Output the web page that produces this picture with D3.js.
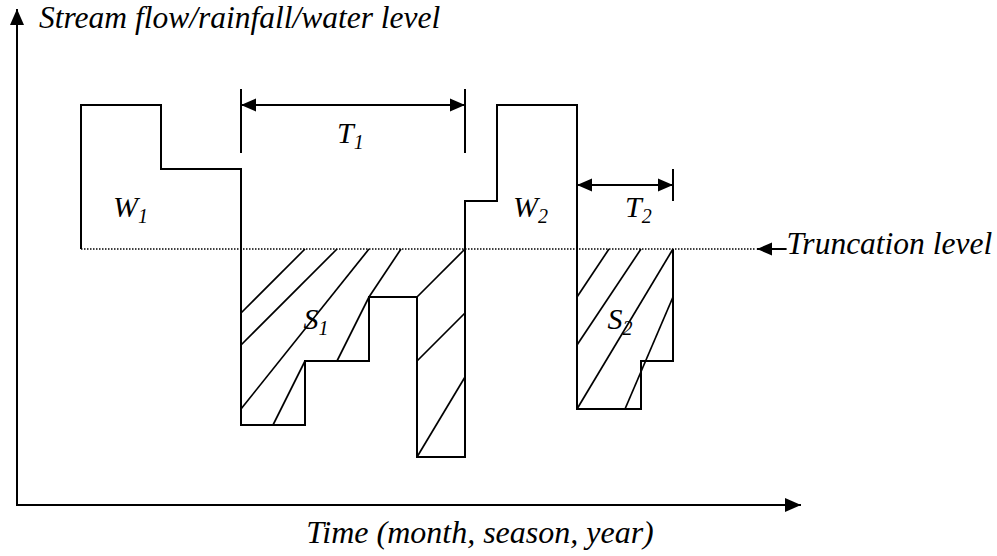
<!DOCTYPE html>
<html>
<head>
<meta charset="utf-8">
<script src="https://cdn.jsdelivr.net/npm/d3@7"></script>
<style>
  html, body { margin: 0; padding: 0; background: #fff; }
  svg { display: block; }
  text { font-family: "Liberation Serif", "Times New Roman", serif; font-style: italic; fill: #000; }
</style>
</head>
<body>
<div id="chart"></div>
<script>
// ---- Data (time units / level units) ----
// step series: each bar begins at edge[i] with level[i]; starts and ends on the truncation level
const stepEdges  = [4, 4, 9, 14, 18, 22, 25, 28, 30, 35, 39, 41];
const stepLevels = [16, 25, 21, 5, 9, 13, 3, 19, 25, 6, 9, 16];
const truncation = 16;
const truncExtent = [4, 46.2];

// hatch strokes inside the deficit areas S1, S2: [t0, v0, t1, v1]
const hatchS1 = [
  [14, 12, 18, 16], [14, 10, 20, 16], [14, 6, 22, 16],
  [16, 5, 18, 9], [20, 9, 22, 13], [22, 13, 24, 16],
  [25, 13, 28, 16], [25, 9, 28, 12], [25, 3, 28, 8]
];
const hatchS2 = [
  [35, 13, 37, 16], [35, 10, 39, 16], [35, 6, 41, 16], [38, 6, 41, 13]
];

// duration arrows: [tStart, tEnd, level]
const durations = [[14, 28, 25], [35, 41, 20]];
// end ticks of the duration arrows: [t, v0, v1]
const durTicks = [[14, 22, 26], [28, 22, 26], [41, 19, 21]];

// labels: [main, sub, t, v]
const labels = [
  ['W', '1', 6, 18], ['W', '2', 31, 18],
  ['T', '1', 20, 22.6], ['T', '2', 38, 18],
  ['S', '1', 17.9, 11], ['S', '2', 36.9, 11]
];

const yTitle = 'Stream flow/rainfall/water level';
const xTitle = 'Time (month, season, year)';
const truncTitle = 'Truncation level';

// ---- Setup ----
const W = 997, H = 556;
const svg = d3.select('#chart').append('svg').attr('width', W).attr('height', H);

const x = d3.scaleLinear().domain([0, 49]).range([17, 801]);
const y = d3.scaleLinear().domain([0, 31]).range([505, 9]);

const defs = svg.append('defs');
function arrowMarker(id, len, half) {
  defs.append('marker')
    .attr('id', id)
    .attr('markerUnits', 'userSpaceOnUse')
    .attr('markerWidth', len + 2).attr('markerHeight', half * 2 + 2)
    .attr('viewBox', `0 ${-half - 1} ${len + 2} ${half * 2 + 2}`)
    .attr('refX', len).attr('refY', 0)
    .attr('orient', 'auto-start-reverse')
    .append('path')
    .attr('d', `M0,${-half}L${len},0L0,${half}Z`)
    .attr('fill', '#000');
}
arrowMarker('headBig', 16, 7);
arrowMarker('headMid', 15, 6.5);

const g = svg.append('g');

// ---- Axes (plain arrows) ----
g.append('line')
  .attr('x1', x(0)).attr('y1', y(0)).attr('x2', x(0)).attr('y2', y(31))
  .attr('stroke', '#000').attr('stroke-width', 2)
  .attr('marker-end', 'url(#headBig)');
g.append('line')
  .attr('x1', x(0) - 1).attr('y1', y(0)).attr('x2', x(49)).attr('y2', y(0))
  .attr('stroke', '#000').attr('stroke-width', 2)
  .attr('marker-end', 'url(#headBig)');

// ---- Truncation level (dotted) ----
g.append('line')
  .attr('x1', x(truncExtent[0])).attr('x2', x(truncExtent[1]))
  .attr('y1', y(truncation)).attr('y2', y(truncation))
  .attr('stroke', '#000').attr('stroke-width', 1.5)
  .attr('stroke-dasharray', '1.5,1.5');

g.append('line')
  .attr('x1', x(48.1)).attr('x2', x(truncExtent[1] + 0.05))
  .attr('y1', y(truncation)).attr('y2', y(truncation))
  .attr('stroke', '#000').attr('stroke-width', 2)
  .attr('marker-end', 'url(#headMid)');

// ---- Hatching ----
g.append('g')
  .selectAll('line').data(hatchS1.concat(hatchS2)).join('line')
  .attr('x1', d => x(d[0])).attr('y1', d => y(d[1]))
  .attr('x2', d => x(d[2])).attr('y2', d => y(d[3]))
  .attr('stroke', '#000').attr('stroke-width', 1.7);

// ---- Step series ----
const pts = stepEdges.map((e, i) => [e, stepLevels[i]]);
const line = d3.line().x(d => x(d[0])).y(d => y(d[1])).curve(d3.curveStepAfter);
g.append('path')
  .attr('d', line(pts))
  .attr('fill', 'none')
  .attr('stroke', '#000').attr('stroke-width', 2)
  .attr('stroke-linejoin', 'miter');

// ---- Duration arrows ----
g.append('g')
  .selectAll('line').data(durTicks).join('line')
  .attr('x1', d => x(d[0])).attr('x2', d => x(d[0]))
  .attr('y1', d => y(d[1])).attr('y2', d => y(d[2]))
  .attr('stroke', '#000').attr('stroke-width', 2);

g.append('g')
  .selectAll('line').data(durations).join('line')
  .attr('x1', d => x(d[0])).attr('x2', d => x(d[1]))
  .attr('y1', d => y(d[2])).attr('y2', d => y(d[2]))
  .attr('stroke', '#000').attr('stroke-width', 2)
  .attr('marker-start', 'url(#headMid)')
  .attr('marker-end', 'url(#headMid)');

// ---- Labels ----
const lab = g.append('g').selectAll('text').data(labels).join('text')
  .attr('x', d => x(d[2])).attr('y', d => y(d[3]))
  .attr('font-size', '30px');
lab.append('tspan').text(d => d[0]);
lab.append('tspan').attr('font-size', '20px').attr('dy', 6).text(d => d[1]);

svg.append('text')
  .attr('x', 39).attr('y', 28)
  .attr('font-size', '31.5px')
  .text(yTitle);

svg.append('text')
  .attr('x', 480).attr('y', 543)
  .attr('text-anchor', 'middle')
  .attr('font-size', '32px')
  .text(xTitle);

svg.append('text')
  .attr('x', x(48.1)).attr('y', 254)
  .attr('font-size', '31.5px')
  .text(truncTitle);
</script>
</body>
</html>
